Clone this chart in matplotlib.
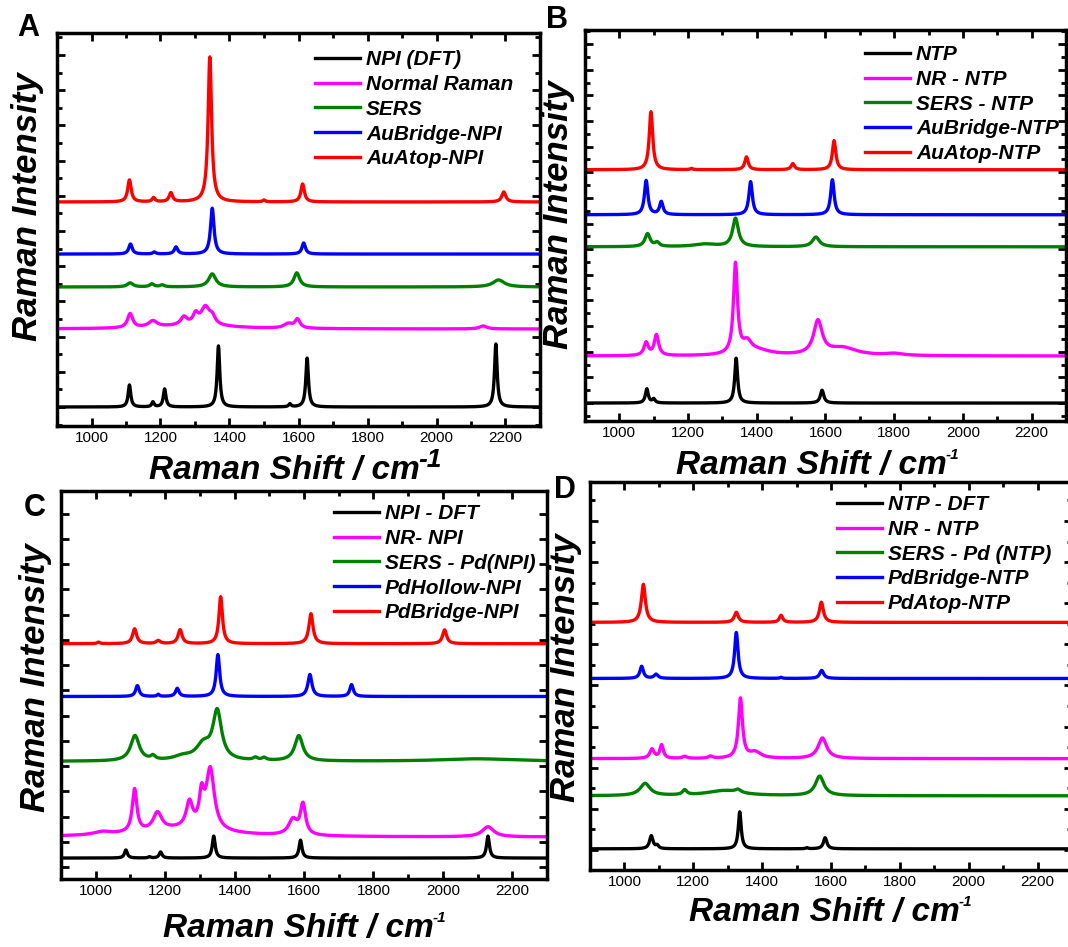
import numpy as np
import matplotlib
matplotlib.use("Agg")
import matplotlib.pyplot as plt
from matplotlib.ticker import MultipleLocator

plt.rcParams['font.family'] = ['Liberation Sans', 'DejaVu Sans']

# peaks as (centre cm-1, height, fwhm); offsets stack the traces
A_DFT = [(1110, 1.25, 9), (1178, 0.28, 8), (1212, 1.02, 9), (1368, 3.47, 9), (1575, 0.17, 8), (1625, 2.78, 9), (2172, 3.58, 9)]
A_NR = [(1112, 0.8, 18), (1178, 0.35, 30), (1268, 0.45, 22), (1302, 0.55, 18), (1330, 1.0, 30), (1350, 0.4, 20),
        (1570, 0.25, 30), (1597, 0.5, 18), (2135, 0.17, 25), (1300, 0.2, 250)]
A_SERS = [(1112, 0.23, 20), (1175, 0.17, 15), (1205, 0.11, 15), (1350, 0.74, 25), (1595, 0.8, 20), (2180, 0.4, 40)]
A_BRIDGE = [(1113, 0.57, 12), (1182, 0.11, 10), (1245, 0.4, 12), (1350, 2.6, 12), (1615, 0.63, 12)]
A_ATOP = [(1110, 1.25, 12), (1180, 0.23, 10), (1230, 0.51, 12), (1343, 8.24, 12), (1500, 0.1, 8), (1612, 1.02, 12), (2195, 0.57, 14)]
A_OFFSET = [0, 4.43, 6.82, 8.69, 11.65]
A_LABELS = ['NPI (DFT)', 'Normal Raman', 'SERS', 'AuBridge-NPI', 'AuAtop-NPI']

B_DFT = [(1080, 1.1, 10), (1100, 0.3, 10), (1340, 3.5, 10), (1590, 1.0, 12)]
B_NR = [(1078, 1.0, 15), (1108, 1.6, 15), (1338, 7.0, 14), (1372, 0.8, 30), (1400, 0.4, 100), (1578, 2.6, 30),
        (1650, 0.6, 100), (1800, 0.15, 60)]
B_SERS = [(1082, 1.0, 18), (1110, 0.3, 15), (1250, 0.2, 80), (1338, 2.2, 20), (1572, 0.75, 25)]
B_BRIDGE = [(1078, 2.66, 12), (1122, 1.0, 12), (1382, 2.58, 12), (1620, 2.73, 12)]
B_ATOP = [(1092, 4.53, 12), (1210, 0.1, 8), (1370, 1.0, 12), (1505, 0.47, 12), (1625, 2.27, 12)]
B_OFFSET = [0, 3.67, 12.19, 14.69, 18.2]
B_LABELS = ['NTP', 'NR - NTP', 'SERS - NTP', 'AuBridge-NTP', 'AuAtop-NTP']

C_DFT = [(1087, 0.32, 10), (1155, 0.05, 8), (1187, 0.24, 10), (1340, 0.87, 10), (1590, 0.71, 10), (2130, 0.87, 10)]
C_NR = [(1020, 0.12, 60), (1112, 1.7, 16), (1178, 0.7, 30), (1270, 1.0, 22), (1305, 1.2, 16), (1330, 2.4, 28),
        (1568, 0.6, 30), (1597, 1.2, 18), (2130, 0.4, 40), (1250, 0.3, 300)]
C_SERS = [(1113, 1.0, 30), (1165, 0.15, 15), (1250, 0.15, 60), (1310, 0.6, 50), (1350, 1.9, 30), (1460, 0.1, 15),
          (1485, 0.1, 15), (1585, 1.0, 28), (2100, 0.1, 250)]
C_HOLLOW = [(1120, 0.43, 12), (1180, 0.08, 8), (1235, 0.32, 12), (1352, 1.66, 12), (1617, 0.87, 14), (1737, 0.47, 12)]
C_BRIDGE = [(1008, 0.06, 10), (1112, 0.59, 14), (1180, 0.12, 14), (1243, 0.55, 14), (1360, 1.86, 12), (1620, 1.19, 14), (2005, 0.55, 14)]
C_OFFSET = [0.36, 1.19, 4.19, 6.76, 8.85]
C_LABELS = ['NPI - DFT', 'NR- NPI', 'SERS - Pd(NPI)', 'PdHollow-NPI', 'PdBridge-NPI']

D_DFT = [(1078, 0.63, 12), (1095, 0.15, 10), (1335, 1.8, 10), (1530, 0.05, 8), (1583, 0.54, 12)]
D_NR = [(1080, 0.45, 15), (1108, 0.65, 12), (1175, 0.1, 15), (1250, 0.1, 15), (1337, 2.9, 14), (1380, 0.3, 40), (1575, 1.0, 30)]
D_SERS = [(1060, 0.59, 35), (1175, 0.24, 15), (1290, 0.25, 120), (1330, 0.15, 20), (1567, 0.95, 30)]
D_BRIDGE = [(1050, 0.59, 12), (1092, 0.2, 14), (1325, 2.24, 12), (1455, 0.05, 8), (1573, 0.39, 14)]
D_ATOP = [(1055, 1.85, 14), (1325, 0.49, 14), (1455, 0.34, 12), (1572, 0.98, 14)]
D_OFFSET = [0.05, 4.44, 2.63, 8.34, 11.07]
D_LABELS = ['NTP - DFT', 'NR - NTP', 'SERS - Pd (NTP)', 'PdBridge-NTP', 'PdAtop-NTP']

COLORS = ['black', '#ff00ff', 'green', 'blue', 'red']
W, H = 1068, 947
shift = np.arange(900, 2301, 1.0)


def spectrum(peaks, base):
    y = np.full_like(shift, base)
    for c, h, w in peaks:
        y += h / (1 + ((shift - c) / (w / 2)) ** 2)
    return y


def box(l, t, r, b):
    return [l / W, 1 - b / H, (r - l) / W, (b - t) / H]


fig = plt.figure(figsize=(W / 100, H / 100), dpi=100)
renderer = fig.canvas.get_renderer()


def shift_label(cx, base_y, sup_size, sup_rise):
    # "Raman Shift / cm" plus a hyphen superscript, centred as one block
    bi = dict(fontweight='bold', style='italic', ha='left', va='baseline')
    t = fig.text(0, 1 - base_y / H, 'Raman Shift / cm', fontsize=24, **bi)
    s = fig.text(0, 1 - (base_y - sup_rise) / H, '-1', fontsize=sup_size, **bi)
    w1 = t.get_window_extent(renderer).width
    w2 = s.get_window_extent(renderer).width
    x0 = cx - (w1 + w2) / 2
    t.set_x(x0 / W)
    s.set_x((x0 + w1 - 1) / W)


panels = [
    ('A', box(57, 33, 540, 426), [A_DFT, A_NR, A_SERS, A_BRIDGE, A_ATOP], A_OFFSET, A_LABELS, (-1.08, 21.25), 1,
     (28, 28), (28, 207), (296, 479, 19, 12), (315, 50)),
    ('B', box(585, 30, 1066, 421), [B_DFT, B_NR, B_SERS, B_BRIDGE, B_ATOP], B_OFFSET, B_LABELS, (-1.4, 29.1), 1,
     (557, 20), (558, 215), (818, 474, 11, 15), (865, 45)),
    ('C', box(61, 491, 547, 879), [C_DFT, C_NR, C_SERS, C_HOLLOW, C_BRIDGE], C_OFFSET, C_LABELS, (-0.47, 14.9), 0,
     (35, 508), (36, 678), (305, 937, 11, 15), (334, 504)),
    ('D', box(590, 482, 1072, 870), [D_DFT, D_NR, D_SERS, D_BRIDGE, D_ATOP], D_OFFSET, D_LABELS, (-0.98, 17.9), 1,
     (565, 490), (565, 668), (831, 921, 11, 15), (837, 495)),
]

for letter, rect, specs, offs, labels, ylim, minor, lpos, ypos, xl, legpos in panels:
    ax = fig.add_axes(rect)
    for peaks, base, col, lab in zip(specs, offs, COLORS, labels):
        ax.plot(shift, spectrum(peaks, base), color=col, lw=2.4, label=lab)
    ax.set_xlim(900, 2300)
    ax.set_ylim(*ylim)
    ax.xaxis.set_major_locator(MultipleLocator(200))
    ax.xaxis.set_minor_locator(MultipleLocator(100))
    if minor:
        ax.yaxis.set_major_locator(MultipleLocator(2))
        ax.yaxis.set_minor_locator(MultipleLocator(1))
    else:
        ax.yaxis.set_major_locator(MultipleLocator(1))
    ax.tick_params(which='both', direction='in', top=True, right=True, width=2)
    ax.tick_params(which='major', length=6, labelsize=11)
    ax.tick_params(which='minor', length=3.5)
    ax.set_yticklabels([])
    for s in ax.spines.values():
        s.set_linewidth(2.5)
    fig.text(lpos[0] / W, 1 - lpos[1] / H, letter, fontsize=22, fontweight='bold', ha='center', va='center')
    fig.text(ypos[0] / W, 1 - ypos[1] / H, 'Raman Intensity', fontsize=25, fontweight='bold', style='italic',
             rotation=90, ha='center', va='center')
    shift_label(*xl)
    ax.legend(loc='upper left', bbox_to_anchor=(legpos[0] / W, 1 - legpos[1] / H), bbox_transform=fig.transFigure,
              frameon=False, handlelength=2.15, handletextpad=0.3, labelspacing=0.28, borderpad=0, borderaxespad=0,
              prop={'weight': 'bold', 'style': 'italic', 'size': 15})

fig.savefig('out.png', dpi=100)
